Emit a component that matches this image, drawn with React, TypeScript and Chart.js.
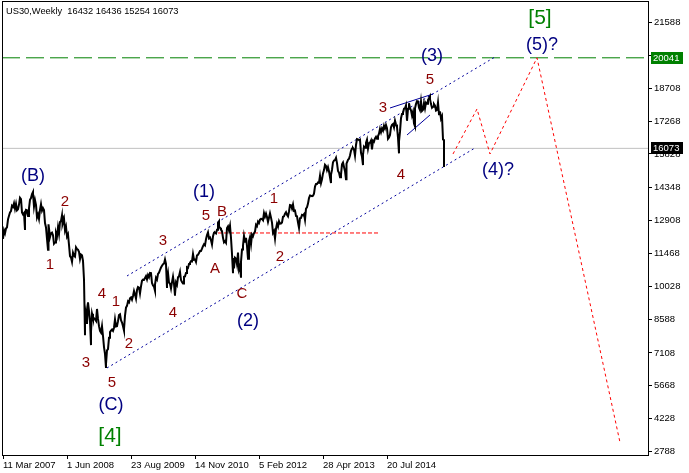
import React, { useEffect, useRef } from 'react';
import { Chart, registerables } from 'chart.js';

Chart.register(...registerables);

// ---- header ----
const symbol = 'US30';
const timeframe = 'Weekly';
const lastBarOHLC = [16432, 16436, 15254, 16073]; // open, high, low, close of current week

// ---- weekly closes (week index 0 = 11 Mar 2007) ----
const closes2007 = [
  12110, 12481, 12354,
  12560, 12612, 12961, 13120, 13264,
  13327, 13556, 13507, 13668,
  13424, 13639, 13360, 13408,
  13611, 13907, 13851, 13265, 13182,
  13239, 13079, 13378, 13358,
  13113, 13442, 13820, 13896, 14066,
  14093, 13522, 13807, 13595,
  13042, 13176, 12980, 13372,
  13625, 13339, 13450, 13365, 12800,
];
const closes2008 = [
  12606, 12099, 12207, 12743,
  12183, 12348, 12381, 12266,
  11894, 11951, 12361, 12216, 12609,
  12325, 12849, 12891, 13058,
  12745, 12986, 12480, 12638,
  12210, 12307, 11843, 11346, 11288,
  11100, 11496, 11370, 11326,
  11734, 11659, 11628, 11543, 11220,
  11421, 11388, 11143, 10325,
  8451, 8852, 8378, 9325,
  8943, 8497, 8046, 8829, 8635,
  8629, 8579, 8515, 9034,
];
const closes2009 = [
  8599, 8281, 8077, 8000,
  8280, 7850, 7366, 7062,
  6627, 7224, 7279, 7776, 8018,
  8083, 8131, 8076, 8212,
  8575, 8268, 8278, 8500, 8764,
  8799, 8539, 8438, 8280,
  8146, 8743, 9093, 9171,
  9370, 9321, 9505, 9544, 9441,
  9605, 9820, 9665, 9487,
  9864, 9995, 9972, 9712,
  10023, 10270, 10318, 10309, 10388,
  10471, 10328, 10520, 10428,
];
const closes2010 = [
  10618, 10609, 10172, 10067, 10012,
  10099, 10402, 10325, 10566,
  10624, 10742, 10851, 10927,
  10997, 11019, 11204, 11009,
  10380, 10620, 10193, 10137, 9931,
  10211, 10450, 10143, 9686,
  10198, 10097, 10424, 10466,
  10653, 10303, 10213, 10150, 10448,
  10462, 10607, 10860, 10830,
  11006, 11062, 11132, 11118, 11444,
  11192, 11203, 11092, 11382,
  11410, 11491, 11573, 11577,
];
const closes2011 = [
  11674, 11787, 11871, 11823, 12092,
  12273, 12391, 12130, 12169,
  12044, 11858, 12220, 12376,
  12380, 12342, 12505, 12811,
  12638, 12596, 12512, 12441, 12151,
  11952, 12004, 11934, 12582,
  12657, 12480, 12681, 12143, 11444,
  11269, 10817, 11284, 11240,
  10992, 11509, 10771, 10913,
  11103, 11644, 11809, 12231, 11983,
  12153, 11796, 11231, 12019,
  12184, 11866, 12294, 12218,
];
const closes2012 = [
  12360, 12422, 12720, 12660, 12862,
  12801, 12950, 12983, 12978,
  12922, 13233, 13081, 13212,
  13060, 12850, 13029, 13228, 13038,
  12820, 12369, 12454, 12119,
  12554, 12767, 12640, 12880,
  12772, 12777, 12822, 13075, 13096,
  13207, 13275, 13157, 13090,
  13306, 13593, 13579, 13437, 13610,
  13328, 13343, 13107, 13093,
  12815, 12588, 13009, 13025,
  13155, 13135, 13190, 12938, 13435,
];
const closes2013 = [
  13488, 13650, 13896, 14009,
  13993, 13981, 14000, 14090,
  14397, 14514, 14512, 14579, 14565,
  14865, 14547, 14712, 14974,
  15118, 15354, 15303, 15116,
  15248, 15070, 14800, 14910, 15136,
  15464, 15543, 15559, 15658,
  15425, 15081, 15010, 14810,
  14922, 15376, 15452, 15258, 15073,
  15237, 15400, 15570, 15615,
  15762, 15962, 16065, 16086,
  16020, 15755, 16221, 16479, 16469,
];
const closes2014 = [
  16437, 16458, 15879, 15699,
  15794, 16154, 16103, 16322,
  16453, 16066, 16303, 16323, 16413,
  16027, 16409, 16361, 16513,
  16583, 16491, 16606, 16717,
  16924, 16776, 16947, 16851, 17068,
  16944, 17100, 16961, 16493,
  16553, 16663, 17001, 17098, 17138,
  16988, 17280, 17113, 17009,
  16544, 16380, 16805, 17391,
  17573, 17634, 17810, 17828, 17958,
  17280, 17804, 18053, 17833,
];
const closes2015 = [
  17737, 17511, 17672, 17165,
  17824, 18019, 18140, 18133,
  17856, 17749, 18128, 17712, 17763,
  18057, 17826, 18080, 18024,
  18191, 18272, 18232, 18011, 17849,
  17898, 18015, 17947, 17730,
  17760, 18086, 17568, 17690,
  17373, 17477, 16460,
];

// intraweek extremes visible as spikes
const swingIndex = [22, 30, 45, 59, 82, 88, 103, 121, 152, 164, 172, 216, 230, 238, 328, 343, 360, 396, 412, 427];
const swingPrice = [12500, 14160, 11630, 13137, 7880, 7450, 6450, 8090, 9835, 9950, 9614, 12876, 10604, 10404, 14550, 14720, 15340, 15855, 17040, 18350];

// ---- axes ----
const xTickIndex = [0, 64, 128, 192, 256, 320, 384];
const xTickLabels = ['11 Mar 2007', '1 Jun 2008', '23 Aug 2009', '14 Nov 2010', '5 Feb 2012', '28 Apr 2013', '20 Jul 2014'];
const yTickValues = [2788, 4228, 5668, 7108, 8588, 10028, 11468, 12908, 14348, 15828, 17268, 18708, 20148, 21588];
const xMin = -1;
const xMax = 645;
const yMin = 2634.6;
const yMax = 22530;

// ---- levels ----
const targetLevel = 20041;
const redLevelIdx = [215, 377];
const redLevelPrice = [12364, 12364];

// ---- channel / trend lines ----
const lowerChannelIdx = [104, 472];
const lowerChannelPrice = [6448, 16089];
const upperChannelIdx = [124, 492];
const upperChannelPrice = [10480, 20076];
const wedgeTopIdx = [387, 430];
const wedgeTopPrice = [17841, 18455];
const wedgeBottomIdx = [404, 427];
const wedgeBottomPrice = [16658, 17535];

// ---- forecast path ----
const projIdx = [450, 474, 487, 534, 617];
const projPrice = [15826, 17798, 15826, 20041, 3186];

// ---- wave labels ----
const minorText = ['2', '1', '4', '1', '2', '3', '5', '3', '4', '5', 'B', 'A', 'C', '1', '2', '3', '5', '4'];
const minorIdx = [62, 47, 99, 113, 126, 83, 109, 160, 170, 203, 219, 212, 239, 271, 277, 380, 427, 398];
const minorPrice = [13722, 10962, 9691, 9340, 7500, 6667, 5791, 12013, 8858, 13109, 13284, 10786, 9691, 13854, 11312, 17841, 19068, 14905];

const interText = ['(B)', '(C)', '(1)', '(2)', '(3)', '(4)?', '(5)?'];
const interIdx = [30, 108, 201, 245, 429, 495, 539];
const interPrice = [14862, 4827, 14160, 8508, 20120, 15125, 20602];

const primaryText = ['[4]', '[5]'];
const primaryIdx = [107, 537];
const primaryPrice = [3468, 21785];

const FONT = '"Liberation Sans", Arial, sans-serif';

const pts = (xs: number[], ys: number[]) => xs.map((x, i) => ({ x, y: ys[i] }));

export default function App() {
  const ref = useRef<HTMLCanvasElement>(null);

  useEffect(() => {
    document.body.style.margin = '0';
    document.body.style.overflow = 'hidden';
    const canvas = ref.current;
    if (!canvas) return;

    const closes = [
      ...closes2007, ...closes2008, ...closes2009, ...closes2010, ...closes2011,
      ...closes2012, ...closes2013, ...closes2014, ...closes2015,
    ];
    const pricePoints: { x: number; y: number }[] = [];
    closes.forEach((c, i) => {
      const k = swingIndex.indexOf(i);
      if (k >= 0) pricePoints.push({ x: i, y: swingPrice[k] });
      pricePoints.push({ x: i, y: c });
    });
    const lastIdx = closes.length;
    lastBarOHLC.forEach((v) => pricePoints.push({ x: lastIdx, y: v }));
    const bid = lastBarOHLC[3];

    const navy = '#00009C';
    const base = { pointRadius: 0, tension: 0, fill: false, borderWidth: 1 };

    const labelPlugin = {
      id: 'mt4overlay',
      afterDatasetsDraw(chart: any) {
        const { ctx, chartArea, scales } = chart;
        const xs = scales.x;
        const ys = scales.y;
        ctx.save();
        ctx.strokeStyle = '#000';
        ctx.lineWidth = 1;
        ctx.strokeRect(chartArea.left + 0.5, chartArea.top + 0.5, chartArea.right - chartArea.left, chartArea.bottom - chartArea.top);
        ctx.textAlign = 'center';
        ctx.textBaseline = 'middle';
        const group = (texts: string[], idx: number[], price: number[], color: string, size: number) => {
          ctx.fillStyle = color;
          ctx.font = `${size}px ${FONT}`;
          texts.forEach((t, i) => ctx.fillText(t, xs.getPixelForValue(idx[i]), ys.getPixelForValue(price[i])));
        };
        group(minorText, minorIdx, minorPrice, '#8B0000', 15);
        group(interText, interIdx, interPrice, '#000080', 18);
        group(primaryText, primaryIdx, primaryPrice, '#008000', 21);
        ctx.textAlign = 'left';
        ctx.fillStyle = '#000';
        ctx.font = `9.3px ${FONT}`;
        ctx.fillText(`${symbol},${timeframe}  ${lastBarOHLC.join(' ')}`, chartArea.left + 4, chartArea.top + 10);
        ctx.restore();
      },
      afterDraw(chart: any) {
        const { ctx, chartArea, scales } = chart;
        const ys = scales.y;
        ctx.save();
        ctx.font = `9.5px ${FONT}`;
        ctx.textAlign = 'left';
        ctx.textBaseline = 'middle';
        const box = (value: number, bg: string) => {
          const y = Math.round(ys.getPixelForValue(value));
          ctx.fillStyle = bg;
          ctx.fillRect(chartArea.right + 3, y - 6, 32, 12);
          ctx.fillStyle = '#fff';
          ctx.fillText(String(value), chartArea.right + 5, y + 0.5);
        };
        box(targetLevel, '#008000');
        box(bid, '#000000');
        ctx.restore();
      },
    };

    const chart = new Chart(canvas, {
      type: 'line',
      data: {
        datasets: [
          { ...base, data: pricePoints, borderColor: '#000', borderWidth: 2, order: 0 } as any,
          { ...base, data: pts([xMin, xMax], [bid, bid]), borderColor: '#C0C0C0', order: 5 },
          { ...base, data: pts([xMin, xMax], [targetLevel, targetLevel]), borderColor: '#008000', borderDash: [18, 6], order: 4 },
          { ...base, data: pts(redLevelIdx, redLevelPrice), borderColor: '#FF0000', borderDash: [4, 2], order: 3 },
          { ...base, data: pts(lowerChannelIdx, lowerChannelPrice), borderColor: navy, borderDash: [2, 3], order: 2 },
          { ...base, data: pts(upperChannelIdx, upperChannelPrice), borderColor: navy, borderDash: [2, 3], order: 2 },
          { ...base, data: pts(wedgeTopIdx, wedgeTopPrice), borderColor: navy, order: 2 },
          { ...base, data: pts(wedgeBottomIdx, wedgeBottomPrice), borderColor: navy, order: 2 },
          { ...base, data: pts(projIdx, projPrice), borderColor: '#FF0000', borderDash: [3, 3], order: 1 },
        ],
      },
      options: {
        animation: false,
        responsive: false,
        devicePixelRatio: 1,
        layout: { padding: { left: 2, top: 1, right: 0, bottom: 0 } },
        plugins: { legend: { display: false }, tooltip: { enabled: false } },
        scales: {
          x: {
            type: 'linear',
            min: xMin,
            max: xMax,
            afterBuildTicks: (s: any) => { s.ticks = xTickIndex.map((v) => ({ value: v })); },
            afterFit: (s: any) => {
              s.height = 18;
              s.paddingLeft = 0; s.paddingRight = 0; s.paddingTop = 0; s.paddingBottom = 0;
            },
            grid: { drawOnChartArea: false, drawTicks: true, tickLength: 4, color: '#000' },
            border: { display: false },
            ticks: {
              autoSkip: false,
              maxRotation: 0,
              align: 'start',
              padding: 1,
              color: '#000',
              font: { size: 9.5, family: FONT },
              callback: (v: any) => { const k = xTickIndex.indexOf(Number(v)); return k >= 0 ? xTickLabels[k] : ''; },
            },
          },
          y: {
            type: 'linear',
            position: 'right',
            min: yMin,
            max: yMax,
            afterBuildTicks: (s: any) => { s.ticks = yTickValues.map((v) => ({ value: v })); },
            afterFit: (s: any) => {
              s.width = 41;
              s.paddingLeft = 0; s.paddingRight = 0; s.paddingTop = 0; s.paddingBottom = 0;
            },
            grid: { drawOnChartArea: false, drawTicks: true, tickLength: 4, color: '#000' },
            border: { display: false },
            ticks: {
              autoSkip: false,
              padding: 2,
              color: '#000',
              font: { size: 9.5, family: FONT },
              callback: (v: any) => String(v),
            },
          },
        },
      } as any,
      plugins: [labelPlugin],
    });

    return () => chart.destroy();
  }, []);

  return (
    <div style={{ width: 689, height: 473 }}>
      <canvas ref={ref} width={689} height={473} style={{ display: 'block' }} />
    </div>
  );
}
